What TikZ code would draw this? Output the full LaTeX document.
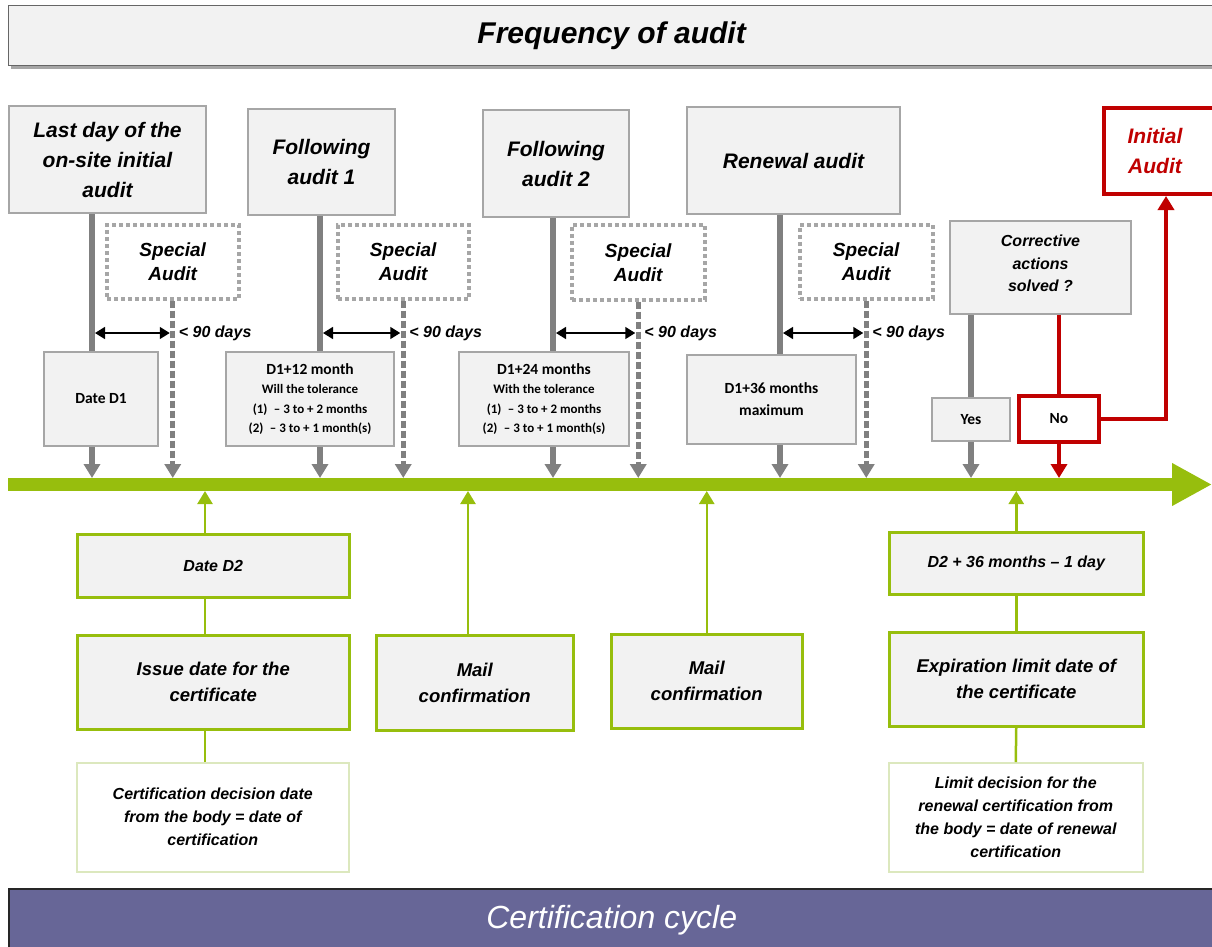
\documentclass[tikz,border=0pt]{standalone}
\usepackage{fontspec}
\setmainfont{Liberation Sans}
\newfontfamily\calfont{Carlito}
\usetikzlibrary{arrows.meta}

\definecolor{boxfill}{HTML}{F2F2F2}
\definecolor{boxedge}{HTML}{A6A6A6}
\definecolor{lngray}{HTML}{808080}
\definecolor{tlgreen}{HTML}{97BE0D}
\definecolor{paleg}{HTML}{DCE8BE}
\definecolor{audred}{HTML}{C00000}
\definecolor{cyclep}{HTML}{676697}

\begin{document}
\begin{tikzpicture}[x=1pt,y=1pt,yscale=-1,xscale=1,
  graybox/.style={draw=boxedge,line width=2pt,fill=boxfill,inner sep=2pt,align=center,anchor=north west},
  greenbox/.style={graybox,draw=tlgreen,line width=2.5pt},
  palebox/.style={graybox,draw=paleg,fill=white,line width=1.5pt},
  spbox/.style={graybox,fill=white,draw=boxedge,line width=3.5pt,dash pattern=on 4pt off 3pt},
  redbox/.style={graybox,fill=white,draw=audred,line width=4pt},
  bigtxt/.style={font=\fontsize{21}{30}\selectfont\bfseries\itshape},
  midtxt/.style={font=\fontsize{18.5}{26}\selectfont\bfseries\itshape},
  smltxt/.style={font=\fontsize{16}{23}\selectfont\bfseries\itshape},
  caltxt/.style={font=\calfont\bfseries\fontsize{15.5}{22}\selectfont},
  toltxt/.style={font=\calfont\bfseries\fontsize{13}{19.3}\selectfont},
  mainln/.style={draw=lngray,line width=6pt},
  mainarr/.style={mainln,-{Triangle[width=16pt,length=14pt]}},
  dashln/.style={draw=lngray,line width=5pt,dash pattern=on 7pt off 3pt,-{Triangle[width=16pt,length=14pt]}},
  redln/.style={draw=audred,line width=4pt},
  redarr/.style={redln,-{Triangle[width=16pt,length=14pt]}},
  grnln/.style={draw=tlgreen,line width=2.5pt},
  grnarr/.style={grnln,-{Triangle[width=15pt,length=13pt]}},
  dblarr/.style={draw=black,line width=1.5pt,{Triangle[width=12pt,length=10pt]}-{Triangle[width=12pt,length=10pt]},shorten <=3pt,shorten >=3pt},
  daytxt/.style={font=\fontsize{16}{18}\selectfont\bfseries\itshape,inner sep=0pt,anchor=west}
]
\useasboundingbox (0,0) rectangle (1212,946);

% header
\fill[black!35] (11,9) rectangle (1216,69);
\node[graybox,draw=black!60,line width=1.2pt,minimum width=1206pt,minimum height=60pt,font=\fontsize{30}{34}\selectfont\bfseries\itshape] (head) at (8,5) {Frequency of audit};

% timeline
\coordinate (tl0) at (8,484.5);
\coordinate (tl1) at (1212,484.5);
\coordinate (tltop) at (0,478);
\coordinate (tlbot) at (0,491);
\draw[tlgreen,line width=13pt,-{Triangle[width=40pt,length=40pt]}] (tl0) -- (tl1);

% audits
\node[graybox,bigtxt,minimum width=197pt,minimum height=107pt] (aud0) at (8,105) {Last day of the\\on-site initial\\audit};
\node[graybox,bigtxt,minimum width=147pt,minimum height=106pt] (aud1) at (247,108) {Following\\audit 1};
\node[graybox,bigtxt,minimum width=146pt,minimum height=107pt] (aud2) at (482,109) {Following\\audit 2};
\node[graybox,bigtxt,minimum width=213pt,minimum height=107pt] (aud3) at (686,106) {Renewal audit};
\node[redbox,minimum width=120pt,minimum height=86pt,
  label={[bigtxt,text=audred,align=center,xshift=-9pt]center:Initial\\Audit}] (initaud) at (1102,106) {};

% special audits
\node[spbox,font=\fontsize{19}{24}\selectfont\bfseries\itshape,minimum width=132pt,minimum height=74pt] (spc0) at (105,223) {Special\\Audit};
\node[spbox,font=\fontsize{19}{24}\selectfont\bfseries\itshape,minimum width=131pt,minimum height=74pt] (spc1) at (336,223) {Special\\Audit};
\node[spbox,font=\fontsize{19}{24}\selectfont\bfseries\itshape,minimum width=133pt,minimum height=75pt] (spc2) at (570,223) {Special\\Audit};
\node[spbox,font=\fontsize{19}{24}\selectfont\bfseries\itshape,minimum width=133pt,minimum height=74pt] (spc3) at (798,223) {Special\\Audit};

% dates
\node[graybox,caltxt,minimum width=114pt,minimum height=94pt] (date0) at (43,351) {Date D1};
\node[graybox,toltxt,minimum width=168pt,minimum height=94pt] (date1) at (225,351) {{\fontsize{15.5}{19.3}\selectfont D1+12 month}\\Will the tolerance\\(1)\enspace– 3 to + 2 months\\(2)\enspace– 3 to + 1 month(s)};
\node[graybox,toltxt,minimum width=170pt,minimum height=94pt] (date2) at (458,351) {{\fontsize{15.5}{19.3}\selectfont D1+24 months}\\With the tolerance\\(1)\enspace– 3 to + 2 months\\(2)\enspace– 3 to + 1 month(s)};
\node[graybox,caltxt,minimum width=169pt,minimum height=89pt] (date3) at (686,354) {D1+36 months\\maximum};

% main lines
\coordinate (m0) at (92,0);
\coordinate (m1) at (320,0);
\coordinate (m2) at (553,0);
\coordinate (m3) at (780,0);
\coordinate (lvl) at (0,333);
\foreach \i in {0,1,2,3}{
  \draw[mainln] (m\i |- aud\i.south) -- (m\i |- date\i.north);
  \draw[mainarr] (m\i |- date\i.south) -- (m\i |- tltop);
  \draw[dashln] (spc\i.south) -- (spc\i.south |- tltop);
  \draw[dblarr] (m\i |- lvl) -- (spc\i.south |- lvl);
  \node[daytxt] (days\i) at ([xshift=6pt]spc\i.south |- lvl) {< 90 days};
}

% corrective actions
\node[graybox,font=\fontsize{16}{22.5}\selectfont\bfseries\itshape,minimum width=181pt,minimum height=93pt,text depth=8pt] (corr) at (949,220) {Corrective\\actions\\solved ?};
\node[graybox,caltxt,minimum width=78pt,minimum height=43pt] (yes) at (931,397) {Yes};
\node[redbox,caltxt,minimum width=80pt,minimum height=46pt] (no) at (1017,394) {No};
\coordinate (r0) at (1166,0);
\draw[mainln] (yes.north |- corr.south) -- (yes.north);
\draw[mainarr] (yes.south) -- (yes.south |- tltop);
\draw[redln] (no.north |- corr.south) -- (no.north);
\draw[redarr] (no.south) -- (no.south |- tltop);
\draw[redarr] (no.east) -| (r0 |- initaud.south);

% certificate
\node[greenbox,smltxt,minimum width=272pt,minimum height=63pt] (dateD2) at (76,533) {Date D2};
\node[greenbox,midtxt,minimum width=272pt,minimum height=94pt] (issue) at (76,634) {Issue date for the\\certificate};
\node[palebox,smltxt,minimum width=272pt,minimum height=109pt] (certdec) at (76,762) {Certification decision date\\from the body = date of\\certification};
\node[greenbox,midtxt,minimum width=197pt,minimum height=95pt] (mail1) at (375,634) {Mail\\confirmation};
\node[greenbox,midtxt,minimum width=191pt,minimum height=94pt] (mail2) at (610,633) {Mail\\confirmation};
\node[greenbox,smltxt,minimum width=254pt,minimum height=62pt] (dateexp) at (888,531) {D2 + 36 months – 1 day};
\node[greenbox,midtxt,minimum width=254pt,minimum height=94pt] (expire) at (888,631) {Expiration limit date of\\the certificate};
\node[palebox,smltxt,minimum width=254pt,minimum height=109pt] (limdec) at (888,762) {Limit decision for the\\renewal certification from\\the body = date of renewal\\certification};

\coordinate (c0) at (205,0);
\coordinate (c1) at (468,0);
\draw[grnarr] (c0 |- dateD2.north) -- (c0 |- tlbot);
\draw[grnln] (c0 |- dateD2.south) -- (c0 |- issue.north);
\draw[grnln] (c0 |- issue.south) -- (c0 |- certdec.north);
\draw[grnarr] (c1 |- mail1.north) -- (c1 |- tlbot);
\draw[grnarr] (mail2.north) -- (mail2.north |- tlbot);
\draw[grnarr] (dateexp.north) -- (dateexp.north |- tlbot);
\draw[grnln] (dateexp.south) -- (expire.north);
\draw[grnln] (expire.south) -- (limdec.north);

% footer
\node[anchor=north west,fill=cyclep,draw=black!85,line width=1.5pt,minimum width=1206pt,minimum height=62pt,text=white,font=\fontsize{32}{36}\selectfont\itshape] (foot) at (8,888) {Certification cycle};

\end{tikzpicture}
\end{document}
